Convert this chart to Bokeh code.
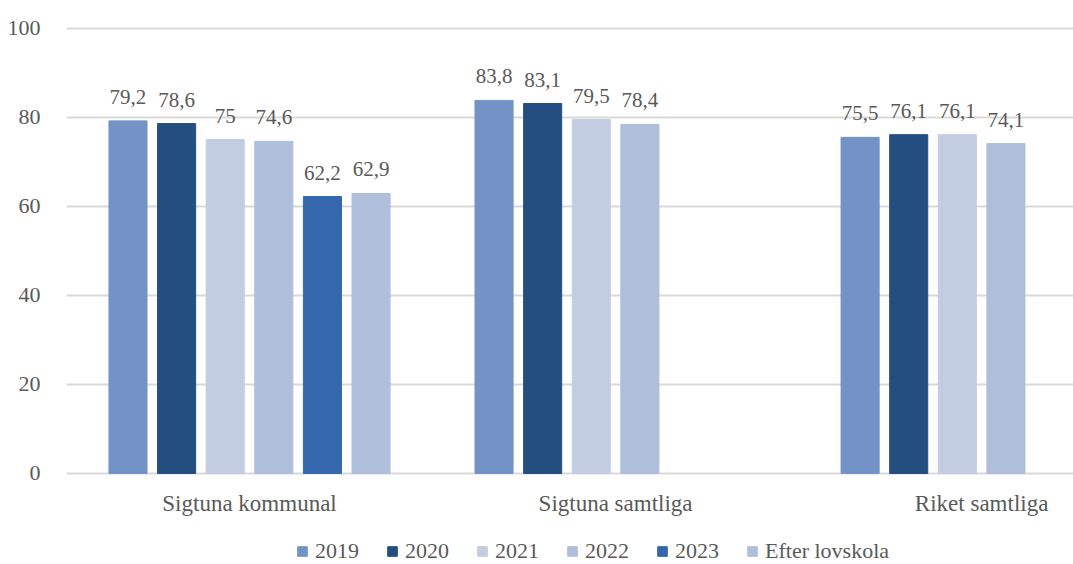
import numpy as np
from bokeh.plotting import figure
from bokeh.models import ColumnDataSource, Range1d, FixedTicker, Legend, LegendItem
from bokeh.transform import dodge
from bokeh.core.properties import value
from bokeh.embed import file_html
from bokeh.resources import INLINE

categories = ["Sigtuna kommunal", "Sigtuna samtliga", "Riket samtliga"]
series = ["2019", "2020", "2021", "2022", "2023", "Efter lovskola"]
v2019 = [79.2, 83.8, 75.5]
v2020 = [78.6, 83.1, 76.1]
v2021 = [75.0, 79.5, 76.1]
v2022 = [74.6, 78.4, 74.1]
v2023 = [62.2, np.nan, np.nan]
vefter = [62.9, np.nan, np.nan]
y_ticks = [0, 20, 40, 60, 80, 100]

values = [v2019, v2020, v2021, v2022, v2023, vefter]
colors = ["#7393C7", "#244E80", "#C2CDE2", "#AFBEDB", "#3467AC", "#B0BFDC"]

FONT = "Liberation Serif"
TXT = "#595959"

p = figure(width=1073, height=564,
           output_backend="svg", toolbar_location=None,
           x_range=Range1d(0, 2.751), y_range=Range1d(-20.45, 100.4),
           min_border_left=66, min_border_right=0, min_border_top=26,
           min_border_bottom=0)
p.outline_line_color = None
p.background_fill_color = "white"

xs = np.arange(len(categories)) + 0.5
pitch = 0.1328
bw = 0.104

items = []
for i, (name, vals, col) in enumerate(zip(series, values, colors)):
    labels = ["" if np.isnan(v) else ("{:g}".format(v)).replace(".", ",") for v in vals]
    src = ColumnDataSource(dict(x=xs, top=vals, lab=labels))
    off = (i - (len(series) - 1) / 2) * pitch
    r = p.vbar(x=dodge("x", off), top="top", width=bw, source=src,
               fill_color=col, line_color=col)
    p.text(x=dodge("x", off), y="top", text="lab", source=src,
           text_align="center", text_baseline="bottom", y_offset=-17,
           text_font=value(FONT), text_font_size="21px", text_color=TXT)
    items.append(LegendItem(label=name, renderers=[r]))

# category labels under the zero line
cat_src = ColumnDataSource(dict(x=xs, y=[0] * len(categories), t=categories))
p.text(x="x", y="y", text="t", source=cat_src, text_align="center",
       text_baseline="middle", y_offset=30,
       text_font=value(FONT), text_font_size="23px", text_color=TXT)

p.xaxis.visible = False

p.yaxis.ticker = FixedTicker(ticks=y_ticks)
p.yaxis.axis_line_color = None
p.yaxis.major_tick_line_color = None
p.yaxis.minor_tick_line_color = None
p.yaxis.major_label_standoff = 20
p.yaxis.major_label_text_font = FONT
p.yaxis.major_label_text_font_size = "22px"
p.yaxis.major_label_text_color = TXT

p.xgrid.grid_line_color = None
p.ygrid.ticker = FixedTicker(ticks=y_ticks)
p.ygrid.grid_line_color = "#D9D9D9"
p.ygrid.grid_line_width = 2

legend = Legend(items=items, orientation="horizontal", location=(230, 0),
                label_text_font=FONT, label_text_font_size="22px",
                label_text_color=TXT, glyph_width=12, glyph_height=12,
                label_height=20, label_standoff=7, spacing=27, padding=0,
                margin=0, background_fill_alpha=0, border_line_alpha=0)
p.add_layout(legend, "center")

open("out.html", "w").write(file_html(p, INLINE))
